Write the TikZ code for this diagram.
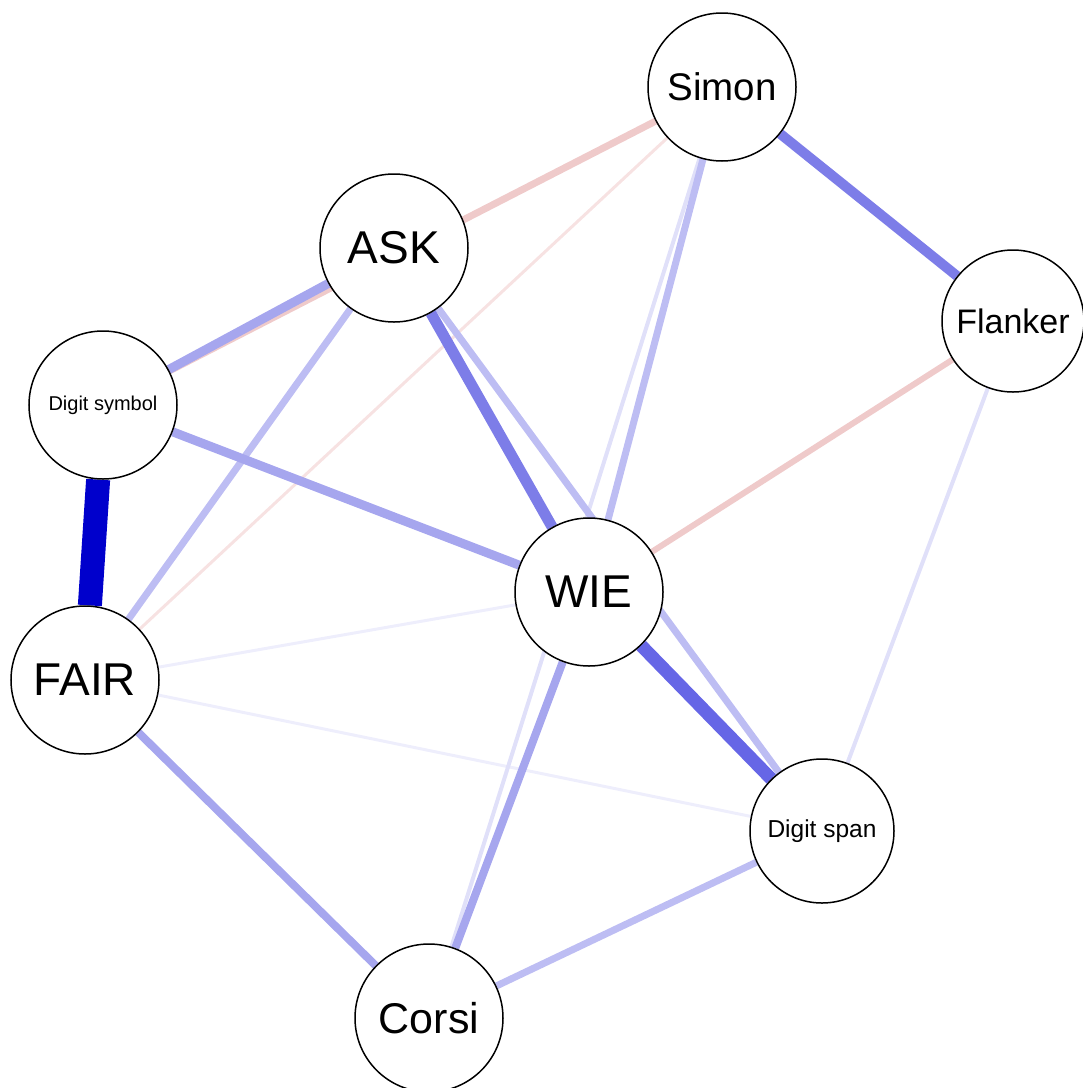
\documentclass[tikz,border=0pt]{standalone}
\usepackage{fontspec}
\setmainfont{Liberation Sans}
\usetikzlibrary{backgrounds}
\definecolor{posA}{HTML}{0000CC}
\definecolor{posB}{HTML}{6666E6}
\definecolor{posC}{HTML}{7D7DE8}
\definecolor{posD}{HTML}{A6A6EE}
\definecolor{posE}{HTML}{BDBDF3}
\definecolor{posF}{HTML}{E0E0F9}
\definecolor{posG}{HTML}{EEEEFC}
\definecolor{negA}{HTML}{EFCACA}
\definecolor{negB}{HTML}{F7E2E2}
\newcommand{\fsz}[1]{\fontsize{#1bp}{#1bp}\selectfont}

\begin{document}
\begin{tikzpicture}[x=1bp,y=-1bp,
    var/.style={circle,draw,line width=1.5bp,fill=white,minimum size=148bp,inner sep=0pt},
    link/.style={line width=#1bp}]
  \useasboundingbox (0,0) rectangle (1083,1088);
  % variables
  \node[var,font=\fsz{38.5}] (simon) at (722,87) {Simon};
  \node[var,font=\fsz{46}] (ask) at (394,248) {ASK};
  \node[var,minimum size=142bp,font=\fsz{34}] (flanker) at (1013,321) {Flanker};
  \node[var,font=\fsz{20}] (dsym) at (103,405) {Digit symbol};
  \node[var,font=\fsz{46}] (wie) at (589,592) {WIE};
  \node[var,font=\fsz{46}] (fair) at (85,680) {FAIR};
  \node[var,minimum size=144bp,font=\fsz{24.5}] (dspan) at (822,831) {Digit span};
  \node[var,font=\fsz{43}] (corsi) at (429,1018) {Corsi};
  % edges, weak ones first
  \begin{pgfonlayer}{background}
    \draw[link=3,posG] (fair) -- (wie);
    \draw[link=3,posG] (fair) -- (dspan);
    \draw[link=3,negB] (simon) -- (fair);
    \draw[link=4,posF] (flanker) -- (dspan);
    \draw[link=4,posF] (simon) -- (corsi);
    \draw[link=6,negA] (flanker) -- (wie);
    \draw[link=7,negA] (simon) -- (dsym);
    \draw[link=7,posE] (ask) -- (fair);
    \draw[link=7,posE] (ask) -- (dspan);
    \draw[link=7,posE] (simon) -- (wie);
    \draw[link=7,posE] (corsi) -- (dspan);
    \draw[link=8,posD] (fair) -- (corsi);
    \draw[link=8,posD] (wie) -- (corsi);
    \draw[link=9,posD] (dsym) -- (wie);
    \draw[link=9,posD] (dsym) -- (ask);
    \draw[link=10,posC] (simon) -- (flanker);
    \draw[link=11,posC] (ask) -- (wie);
    \draw[link=13,posB] (wie) -- (dspan);
    \draw[link=24,posA] (dsym) -- (fair);
  \end{pgfonlayer}
\end{tikzpicture}
\end{document}
